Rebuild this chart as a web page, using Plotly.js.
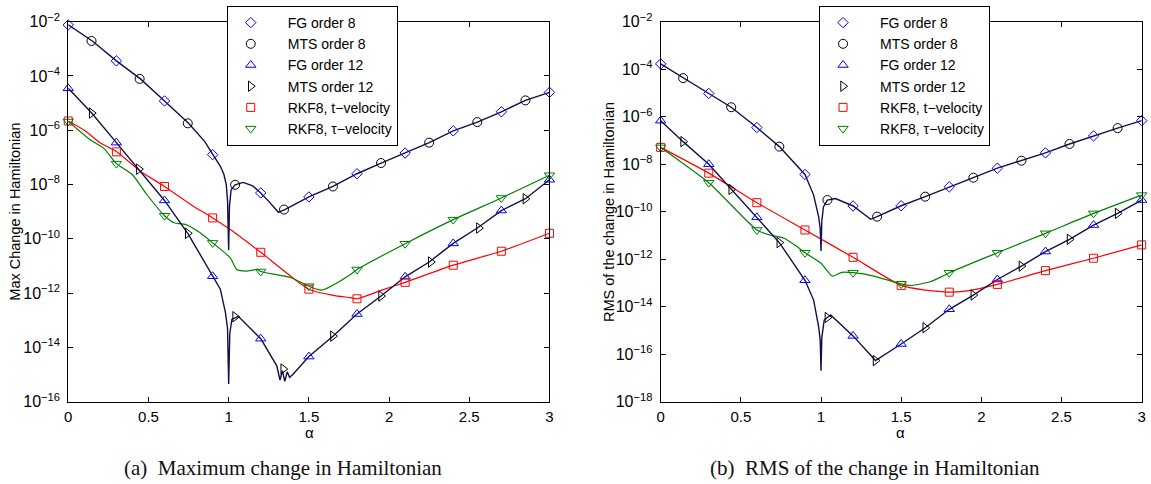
<!DOCTYPE html>
<html>
<head>
<meta charset="utf-8">
<script src="https://cdn.plot.ly/plotly-3.0.1.min.js"></script>
<style>html,body{margin:0;padding:0;background:#fff;}#chart{width:1151px;height:484px;}</style>
</head>
<body>
<div id="chart"></div>
<script>
// ---------- shared ----------
const alphaFG = [0, 0.3, 0.6, 0.9, 1.2, 1.5, 1.8, 2.1, 2.4, 2.7, 3.0];
const legendNames = ["FG order 8", "MTS order 8", "FG order 12", "MTS order 12", "RKF8, t\u2212velocity", "RKF8, \u03c4\u2212velocity"];
const xTickVals = [0, 0.5, 1, 1.5, 2, 2.5, 3];
const xTickText = ["0", "0.5", "1", "1.5", "2", "2.5", "3"];
const yTickValsL = [1e-2, 1e-4, 1e-6, 1e-8, 1e-10, 1e-12, 1e-14, 1e-16];
const yTickTextL = ["10<sup>\u22122</sup>", "10<sup>\u22124</sup>", "10<sup>\u22126</sup>", "10<sup>\u22128</sup>", "10<sup>\u221210</sup>", "10<sup>\u221212</sup>", "10<sup>\u221214</sup>", "10<sup>\u221216</sup>"];
const yTickValsR = [1e-2, 1e-4, 1e-6, 1e-8, 1e-10, 1e-12, 1e-14, 1e-16, 1e-18];
const yTickTextR = ["10<sup>\u22122</sup>", "10<sup>\u22124</sup>", "10<sup>\u22126</sup>", "10<sup>\u22128</sup>", "10<sup>\u221210</sup>", "10<sup>\u221212</sup>", "10<sup>\u221214</sup>", "10<sup>\u221216</sup>", "10<sup>\u221218</sup>"];

// ---------- (a) Maximum change ----------
const maxO8LineX = [0, 0.15, 0.3, 0.45, 0.6, 0.75, 0.85, 0.9, 0.95, 0.97, 0.985, 0.993, 1.0, 1.005, 1.015, 1.04, 1.09, 1.15, 1.2, 1.25, 1.31, 1.35, 1.5, 1.65, 1.8, 1.95, 2.1, 2.25, 2.4, 2.55, 2.7, 2.85, 3.0];
const maxO8LineY = [7.6e-3, 1.95e-3, 3.6e-4, 7.8e-5, 1.2e-5, 1.8e-6, 3.9e-7, 1.26e-7, 4.5e-8, 2.4e-8, 1.0e-8, 2.5e-9, 3.8e-11, 1.6e-9, 6.3e-9, 9.8e-9, 1.2e-8, 8.9e-9, 4.9e-9, 2.4e-9, 9.5e-10, 1.2e-9, 3.5e-9, 8.5e-9, 2.5e-8, 6.2e-8, 1.45e-7, 3.5e-7, 9.5e-7, 2.0e-6, 4.8e-6, 1.26e-5, 2.5e-5];
const maxO12LineX = [0, 0.146, 0.3, 0.44, 0.6, 0.745, 0.9, 0.948, 0.98, 0.993, 1.0, 1.007, 1.02, 1.06, 1.2, 1.3, 1.32, 1.335, 1.35, 1.365, 1.38, 1.4, 1.5, 1.65, 1.8, 1.95, 2.1, 2.25, 2.4, 2.55, 2.7, 2.85, 3.0];
const maxO12LineY = [3.5e-5, 4.3e-6, 3.5e-7, 3.7e-8, 2.6e-9, 1.6e-10, 4.2e-12, 1.4e-12, 1.9e-13, 5.0e-14, 4.5e-16, 3.2e-14, 1.07e-13, 1.4e-13, 2.1e-14, 2.1e-15, 6.3e-16, 1.4e-15, 5.6e-16, 1.26e-15, 7.9e-16, 1.0e-15, 4.6e-15, 2.6e-14, 1.7e-13, 7.8e-13, 4.0e-12, 1.4e-11, 6.8e-11, 2.5e-10, 1.1e-9, 3.0e-9, 1.5e-8];
const maxTLineX = [0, 0.1, 0.2, 0.3, 0.45, 0.6, 0.78, 0.9, 1.01, 1.2, 1.5, 1.65, 1.76, 1.8, 1.95, 2.1, 2.4, 2.7, 3.0];
const maxTLineY = [2.2e-6, 1.0e-6, 3.4e-7, 1.66e-7, 3.1e-8, 8.5e-9, 1.6e-9, 5.9e-10, 2.2e-10, 3.2e-11, 1.4e-12, 8.3e-13, 6.8e-13, 6.2e-13, 1.26e-12, 2.5e-12, 1.07e-11, 3.5e-11, 1.6e-10];
const maxTauLineX = [0, 0.136, 0.22, 0.3, 0.4, 0.49, 0.6, 0.66, 0.73, 0.82, 0.9, 1.01, 1.05, 1.11, 1.18, 1.2, 1.39, 1.5, 1.58, 1.76, 1.8, 2.1, 2.4, 2.7, 3.0];
const maxTauLineY = [2.1e-6, 4.5e-7, 2.2e-7, 5.9e-8, 2.3e-8, 4.3e-9, 7.1e-10, 3.9e-10, 3.4e-10, 1.7e-10, 7.1e-11, 2.0e-11, 7.4e-12, 6.5e-12, 7.4e-12, 6.3e-12, 3.7e-12, 1.8e-12, 1.3e-12, 4.9e-12, 7.4e-12, 6.6e-11, 5.1e-10, 3.2e-9, 2.2e-8];

const maxFG8 = [7.6e-3, 3.6e-4, 1.2e-5, 1.26e-7, 4.9e-9, 3.5e-9, 2.5e-8, 1.45e-7, 9.5e-7, 4.8e-6, 2.5e-5];
const maxMTS8X = [0.145, 0.445, 0.745, 1.04, 1.345, 1.65, 1.95, 2.25, 2.55, 2.85];
const maxMTS8 = [1.95e-3, 7.8e-5, 1.8e-6, 9.8e-9, 1.2e-9, 8.5e-9, 6.2e-8, 3.5e-7, 2.0e-6, 1.26e-5];
const maxFG12 = [3.5e-5, 3.5e-7, 2.6e-9, 4.2e-12, 2.1e-14, 4.6e-15, 1.7e-13, 4.0e-12, 6.8e-11, 1.1e-9, 1.5e-8];
const maxMTS12X = [0.146, 0.44, 0.745, 1.04, 1.34, 1.65, 1.95, 2.26, 2.56, 2.85];
const maxMTS12 = [4.3e-6, 3.7e-8, 1.6e-10, 1.35e-13, 1.6e-15, 2.6e-14, 7.8e-13, 1.4e-11, 2.5e-10, 3.0e-9];
const maxRKFt = [2.2e-6, 1.6e-7, 8.5e-9, 5.9e-10, 3.2e-11, 1.4e-12, 6.2e-13, 2.5e-12, 1.07e-11, 3.5e-11, 1.6e-10];
const maxRKFtau = [2.1e-6, 5.9e-8, 7.1e-10, 7.1e-11, 6.3e-12, 1.8e-12, 7.4e-12, 6.6e-11, 5.1e-10, 3.2e-9, 2.2e-8];

// ---------- (b) RMS of change ----------
const rmsO8LineX = [0, 0.14, 0.3, 0.44, 0.6, 0.74, 0.9, 0.954, 0.985, 0.995, 1.0, 1.005, 1.015, 1.04, 1.09, 1.2, 1.31, 1.35, 1.5, 1.65, 1.8, 1.95, 2.1, 2.25, 2.4, 2.55, 2.7, 2.85, 3.0];
const rmsO8LineY = [1.66e-4, 4.2e-5, 9.5e-6, 2.5e-6, 3.5e-7, 5.5e-8, 3.7e-9, 5.0e-10, 6.2e-11, 2.0e-11, 2.2e-12, 4.0e-11, 1.6e-10, 3.1e-10, 3.6e-10, 1.74e-10, 4.8e-11, 6.2e-11, 1.78e-10, 4.3e-10, 1.12e-9, 2.7e-9, 6.8e-9, 1.4e-8, 3.0e-8, 7.1e-8, 1.55e-7, 3.3e-7, 6.8e-7];
const rmsO12LineX = [0, 0.14, 0.3, 0.44, 0.6, 0.74, 0.9, 0.954, 0.985, 0.995, 1.0, 1.005, 1.02, 1.06, 1.2, 1.31, 1.34, 1.5, 1.65, 1.8, 1.95, 2.1, 2.25, 2.4, 2.55, 2.7, 2.85, 3.0];
const rmsO12LineY = [6.8e-7, 8.9e-8, 1.0e-8, 8.7e-10, 5.8e-11, 5.0e-12, 1.3e-13, 1.9e-14, 1.45e-15, 4.0e-16, 2.0e-17, 5.0e-16, 2.75e-15, 4.5e-15, 5.9e-16, 9.3e-17, 5.4e-17, 2.7e-16, 1.3e-15, 7.8e-15, 3.1e-14, 1.4e-13, 5.1e-13, 2.1e-12, 6.9e-12, 2.75e-11, 8.5e-11, 3.1e-10];
const rmsTLineX = [0, 0.3, 0.6, 0.9, 1.2, 1.5, 1.65, 1.75, 1.8, 1.9, 2.1, 2.4, 2.7, 3.0];
const rmsTLineY = [5.1e-8, 4.2e-9, 2.4e-10, 1.7e-11, 1.2e-12, 7.9e-14, 5.0e-14, 4.3e-14, 4.1e-14, 4.5e-14, 8.7e-14, 3.3e-13, 1.1e-12, 4.0e-12];
const rmsTauLineX = [0, 0.3, 0.6, 0.68, 0.77, 0.85, 0.9, 1.0, 1.07, 1.13, 1.2, 1.33, 1.5, 1.56, 1.68, 1.75, 1.8, 2.1, 2.4, 2.7, 3.0];
const rmsTauLineY = [5.1e-8, 1.66e-9, 1.7e-11, 1.05e-11, 7.6e-12, 3.4e-12, 1.86e-12, 6.8e-13, 1.95e-13, 2.8e-13, 2.7e-13, 1.95e-13, 9.1e-14, 7.8e-14, 1.12e-13, 1.8e-13, 2.7e-13, 1.86e-12, 1.23e-11, 8.5e-11, 5.0e-10];

const rmsFG8 = [1.66e-4, 9.5e-6, 3.5e-7, 3.7e-9, 1.74e-10, 1.78e-10, 1.12e-9, 6.8e-9, 3.0e-8, 1.55e-7, 6.8e-7];
const rmsMTS8X = [0.14, 0.44, 0.74, 1.04, 1.35, 1.65, 1.95, 2.25, 2.55, 2.85];
const rmsMTS8 = [4.2e-5, 2.5e-6, 5.5e-8, 3.1e-10, 6.2e-11, 4.3e-10, 2.7e-9, 1.4e-8, 7.1e-8, 3.3e-7];
const rmsFG12 = [6.8e-7, 1.0e-8, 5.8e-11, 1.3e-13, 5.9e-16, 2.7e-16, 7.8e-15, 1.4e-13, 2.1e-12, 2.75e-11, 3.1e-10];
const rmsMTS12X = [0.14, 0.44, 0.74, 1.04, 1.34, 1.65, 1.95, 2.25, 2.55, 2.85];
const rmsMTS12 = [8.9e-8, 8.7e-10, 5.0e-12, 3.5e-15, 5.4e-17, 1.3e-15, 3.1e-14, 5.1e-13, 6.9e-12, 8.5e-11];
const rmsRKFt = [5.1e-8, 4.2e-9, 2.4e-10, 1.7e-11, 1.2e-12, 7.9e-14, 4.1e-14, 8.7e-14, 3.3e-13, 1.1e-12, 4.0e-12];
const rmsRKFtau = [5.1e-8, 1.66e-9, 1.7e-11, 1.86e-12, 2.7e-13, 9.1e-14, 2.7e-13, 1.86e-12, 1.23e-11, 8.5e-11, 5.0e-10];

// ---------- build traces ----------
const NAVY = "#10104a", BLUE = "#0000ff", BLACK = "#000000", RED = "#ff0000", GREEN = "#008000";

function lineTrace(x, y, color, xa, ya, smooth) {
  return {x: x, y: y, mode: "lines", xaxis: xa, yaxis: ya, showlegend: false, hoverinfo: "skip",
          cliponaxis: false,
          line: smooth ? {color: color, width: 1.2, shape: "spline", smoothing: 0.6} : {color: color, width: 1.4}};
}
function markTrace(x, y, name, symbol, color, size, xa, ya, leg) {
  return {x: x, y: y, mode: "markers", name: name, xaxis: xa, yaxis: ya, legend: leg, cliponaxis: false,
          marker: {symbol: symbol, size: size, color: color, line: {color: color, width: 1}}};
}

function panel(xa, ya, leg, d) {
  return [
    lineTrace(d.tX, d.tY, RED, xa, ya, true),
    lineTrace(d.tauX, d.tauY, GREEN, xa, ya, true),
    lineTrace(d.o12X, d.o12Y, NAVY, xa, ya, false),
    lineTrace(d.o8X, d.o8Y, NAVY, xa, ya, false),
    markTrace(alphaFG, d.fg8, legendNames[0], "diamond-open", BLUE, 8, xa, ya, leg),
    markTrace(d.mts8X, d.mts8, legendNames[1], "circle-open", BLACK, 9, xa, ya, leg),
    markTrace(alphaFG, d.fg12, legendNames[2], "triangle-up-open", BLUE, 9, xa, ya, leg),
    markTrace(d.mts12X, d.mts12, legendNames[3], "triangle-right-open", BLACK, 9, xa, ya, leg),
    markTrace(alphaFG, d.rkt, legendNames[4], "square-open", RED, 8, xa, ya, leg),
    markTrace(alphaFG, d.rktau, legendNames[5], "triangle-down-open", GREEN, 9, xa, ya, leg)
  ];
}

const traces = panel("x", "y", "legend", {
  tX: maxTLineX, tY: maxTLineY, tauX: maxTauLineX, tauY: maxTauLineY,
  o12X: maxO12LineX, o12Y: maxO12LineY, o8X: maxO8LineX, o8Y: maxO8LineY,
  fg8: maxFG8, mts8X: maxMTS8X, mts8: maxMTS8, fg12: maxFG12, mts12X: maxMTS12X, mts12: maxMTS12,
  rkt: maxRKFt, rktau: maxRKFtau
}).concat(panel("x2", "y2", "legend2", {
  tX: rmsTLineX, tY: rmsTLineY, tauX: rmsTauLineX, tauY: rmsTauLineY,
  o12X: rmsO12LineX, o12Y: rmsO12LineY, o8X: rmsO8LineX, o8Y: rmsO8LineY,
  fg8: rmsFG8, mts8X: rmsMTS8X, mts8: rmsMTS8, fg12: rmsFG12, mts12X: rmsMTS12X, mts12: rmsMTS12,
  rkt: rmsRKFt, rktau: rmsRKFtau
}));

const SANS = "Liberation Sans, Arial, sans-serif";
const SERIF = "Liberation Serif, Times New Roman, serif";

function xAxis(domain, anchor) {
  return {domain: domain, anchor: anchor, range: [0, 3], tickvals: xTickVals, ticktext: xTickText,
          ticks: "inside", ticklen: 5, tickwidth: 1, tickcolor: "#000", mirror: "ticks",
          showline: true, linecolor: "#000", linewidth: 1, showgrid: false, zeroline: false,
          tickfont: {family: SANS, size: 15, color: "#000"}, ticklabelstandoff: 1, fixedrange: true};
}
function yAxis(range, vals, text, anchor) {
  return {domain: [0.170, 0.9552], anchor: anchor, type: "log", range: range, tickvals: vals, ticktext: text,
          ticks: "inside", ticklen: 5, tickwidth: 1, tickcolor: "#000", mirror: "ticks",
          showline: true, linecolor: "#000", linewidth: 1, showgrid: false, zeroline: false,
          tickfont: {family: SANS, size: 16, color: "#000"}, ticklabelstandoff: 4, fixedrange: true};
}
function legendCfg(x) {
  return {x: x, y: 0.9876, xanchor: "left", yanchor: "top", xref: "paper", yref: "paper",
          bgcolor: "#fff", bordercolor: "#000", borderwidth: 1, itemwidth: 64, indentation: -14,
          tracegroupgap: 0, font: {family: SANS, size: 14, color: "#000"}};
}

const layout = {
  width: 1151, height: 484, margin: {l: 0, r: 0, t: 0, b: 0},
  paper_bgcolor: "#fff", plot_bgcolor: "#fff",
  xaxis: xAxis([0.0593, 0.4774], "y"),
  yaxis: yAxis([-16, -2], yTickValsL, yTickTextL, "x"),
  xaxis2: xAxis([0.5740, 0.9919], "y2"),
  yaxis2: yAxis([-18, -2], yTickValsR, yTickTextR, "x2"),
  legend: legendCfg(0.197),
  legend2: legendCfg(0.7116),
  annotations: [
    {text: "Max Change in Hamiltonian", xref: "paper", yref: "paper", x: 0.0130, y: 0.5626, textangle: -90,
     showarrow: false, xanchor: "center", yanchor: "middle", font: {family: SANS, size: 14.5, color: "#000"}},
    {text: "RMS of the change in Hamiltonian", xref: "paper", yref: "paper", x: 0.5285, y: 0.5626, textangle: -90,
     showarrow: false, xanchor: "center", yanchor: "middle", font: {family: SANS, size: 14.5, color: "#000"}},
    {text: "\u03b1", xref: "paper", yref: "paper", x: 0.2685, y: 0.106, showarrow: false,
     xanchor: "center", yanchor: "middle", font: {family: SANS, size: 15, color: "#000"}},
    {text: "\u03b1", xref: "paper", yref: "paper", x: 0.7826, y: 0.106, showarrow: false,
     xanchor: "center", yanchor: "middle", font: {family: SANS, size: 15, color: "#000"}},
    {text: "(a)\u00a0\u00a0Maximum change in Hamiltonian", xref: "paper", yref: "paper", x: 0.2463, y: 0.033,
     showarrow: false, xanchor: "center", yanchor: "middle", font: {family: SERIF, size: 21, color: "#111"}},
    {text: "(b)\u00a0\u00a0RMS of the change in Hamiltonian", xref: "paper", yref: "paper", x: 0.7602, y: 0.033,
     showarrow: false, xanchor: "center", yanchor: "middle", font: {family: SERIF, size: 21, color: "#111"}}
  ]
};

Plotly.newPlot("chart", traces, layout, {staticPlot: true, displayModeBar: false});
</script>
</body>
</html>
